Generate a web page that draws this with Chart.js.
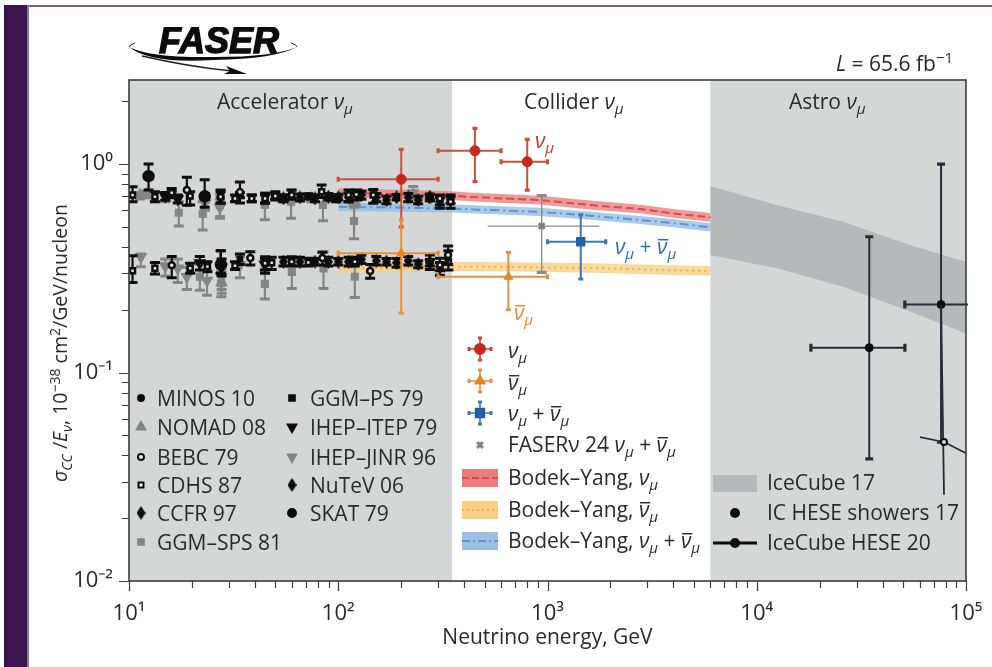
<!DOCTYPE html>
<html>
<head>
<meta charset="utf-8">
<script src="https://cdn.jsdelivr.net/npm/chart.js@4"></script>
<style>
    body { margin: 0; background: #fff; }
    #strip { position: absolute; left: 4px; top: 5px; width: 23px; height: 662px; background: #3d1350; }
    #edgeTop { position: absolute; left: 27px; top: 5px; right: 0; height: 2px; background: #7d5f8e; }
    #edgeLeft { position: absolute; left: 27px; top: 5px; width: 2px; height: 662px; background: #8d72a0; }
    #chart { position: absolute; left: 0; top: 0; }
</style>
</head>
<body>
<div id="strip"></div><div id="edgeTop"></div><div id="edgeLeft"></div>
<canvas id="chart" width="992" height="667"></canvas>
<script>
// accelerator measurements, upper group is neutrino and lower group antineutrino
const cdhsEnergy = [10.4, 13.3, 16, 19.6, 27.4, 32.1, 38.6, 44.7, 50, 59.9, 83.3, 112, 122, 147, 306, 344, 10.4, 13.3, 19.6, 23.7, 32.1, 44.7, 48.1, 59.9, 71.9, 120, 306, 336];
const cdhsSigma = [.71, .697, .729, .702, .697, .684, .684, .684, .702, .71, .737, .71, .715, .71, .684, .66, .308, .316, .316, .322, .325, .334, .336, .34, .337, .34, .328, .34];
const cdhsLow = [.66, .66, .692, .636, .648, .66, .66, .648, .672, .677, .692, .66, .672, .648, .613, .613, .27, .297, .299, .304, .312, .299, .312, .324, .324, .324, .293, .31];
const cdhsHigh = [.779, .737, .764, .737, .75, .71, .71, .723, .737, .75, .793, .75, .75, .755, .71, .71, .363, .337, .334, .34, .34, .359, .357, .359, .353, .357, .353, .384];

const ccfrEnergy = [27.4, 54.7, 65.6, 89.7, 112, 129, 152, 190, 216, 274, 27.4, 54.7, 65.6, 89.7, 112, 129, 152, 190, 216, 274];
const ccfrSigma = [.692, .684, .692, .697, .692, .71, .692, .692, .692, .692, .331, .34, .34, .34, .34, .349, .344, .336, .344, .34];
const ccfrLow = [.65, .66, .665, .672, .66, .677, .66, .672, .66, .665, .299, .324, .324, .324, .324, .333, .328, .32, .328, .312];
const ccfrHigh = [.737, .71, .718, .723, .723, .74, .723, .715, .723, .718, .384, .357, .357, .357, .357, .365, .36, .352, .36, .366];

const nutevEnergy = [77.4, 100, 170, 241, 274, 306, 344, 77.4, 100, 170, 241, 274, 306];
const nutevSigma = [.684, .692, .672, .672, .692, .66, .672, .34, .34, .34, .331, .336, .322];
const nutevLow = [.66, .672, .645, .645, .672, .636, .648, .328, .328, .328, .318, .324, .308];
const nutevHigh = [.71, .715, .7, .7, .715, .69, .697, .352, .352, .352, .344, .348, .336];

const bebcEnergy = [18.9, 33.9, 16, 38, 84, 142, 335];
const bebcSigma = [.75, .735, .327, .354, .354, .307, .366];
const bebcLow = [.635, .65, .285, .328, .328, .283, .33];
const bebcHigh = [.865, .82, .36, .38, .378, .33, .404];

const skatEnergy = [12.4, 23, 27.5];
const skatSigma = [.875, .7, .33];
const skatLow = [.75, .62, .299];
const skatHigh = [1.0, .84, .384];

const minosEnergy = [16, 23.1, 33.9, 50, 71.9, 98];
const minosSigma = [.715, .7, .71, .7, .7, .68];
const minosLow = [.69, .68, .69, .68, .68, .66];
const minosHigh = [.74, .72, .73, .72, .72, .7];

const ggmPsEnergy = [38.6, 44.7, 54.7, 33.9];
const ggmPsSigma = [.684, .68, .69, .35];
const ggmPsLow = [.66, .65, .67, .33];
const ggmPsHigh = [.71, .71, .71, .37];

const ihepItepEnergy = [14.9, 17.1, 21.8, 27.7, 44.6];
const ihepItepSigma = [.7, .68, .335, .32, .33];
const ihepItepLow = [.67, .65, .31, .29, .31];
const ihepItepHigh = [.73, .71, .36, .35, .35];

const ggmSpsEnergy = [17.3, 22.5, 27.2, 44.6, 59.5, 84.5, 119, 21.8, 27.6, 44.6, 60, 85, 120];
const ggmSpsSigma = [.584, .576, .636, .636, .66, .636, .533, .288, .268, .266, .304, .316, .288];
const ggmSpsLow = [.504, .483, .55, .54, .55, .535, .438, .248, .231, .225, .253, .253, .229];
const ggmSpsHigh = [.66, .66, .71, .73, .75, .72, .62, .33, .31, .31, .35, .38, .35];

const nomadEnergy = [11.3, 12.1, 14.9, 54.6, 74.6, 91.1, 120, 27.7];
const nomadSigma = [.71, .715, .684, .677, .684, .677, .66, .27];
const nomadLow = [.68, .69, .66, .66, .66, .66, .64, .24];
const nomadHigh = [.73, .74, .71, .69, .7, .69, .68, .3];

const ihepJinrEnergy = [11.4, 14.9, 17.1, 18.9, 23.6, 27.7, 33.9, 23.1, 27.2, 228];
const ihepJinrSigma = [.359, .324, .316, .288, .276, .288, .328, .648, .62, .726];
const ihepJinrLow = [.322, .29, .27, .25, .235, .25, .285, .6, .56, .68];
const ihepJinrHigh = [.37, .35, .35, .32, .31, .32, .36, .7, .68, .78];

// FASER points
const redEnergy = [200, 450, 800];
const redSigma = [.845, 1.158, 1.026];
const redEnergyLow = [100, 300, 600];
const redEnergyHigh = [300, 600, 1000];
const redLow = [.5, .823, .75];
const redHigh = [1.176, 1.483, 1.313];

const orangeEnergy = [200, 650];
const orangeSigma = [.373, .288];
const orangeEnergyLow = [100, 300];
const orangeEnergyHigh = [300, 1000];
const orangeLow = [.193, .2];
const orangeHigh = [.54, .377];

const blueEnergy = [1442];
const blueSigma = [.424];
const blueEnergyLow = [1000];
const blueEnergyHigh = [1897];
const blueLow = [.281];
const blueHigh = [.57];

const faserEnergy = [938];
const faserSigma = [.504];
const faserEnergyLow = [518];
const faserEnergyHigh = [1770];
const faserLow = [.302];
const faserHigh = [.705];

// Bodek-Yang bands
const bandEnergy = [100, 350, 441, 920, 1596, 2767, 3980, 6000];
const redBand = [.728, .705, .694, .672, .636, .608, .58, .555];
const redBandUp = [.765, .74, .728, .705, .668, .638, .608, .582];
const redBandDown = [.693, .672, .661, .64, .606, .58, .553, .529];
const blueBand = [.624, .612, .606, .59, .565, .539, .521, .497];
const blueBandUp = [.652, .64, .634, .617, .591, .564, .545, .52];
const blueBandDown = [.596, .585, .579, .564, .54, .515, .498, .475];
const orangeBand = [.316, .322, .322, .32, .317, .313, .31, .307];
const orangeBandUp = [.333, .339, .339, .337, .334, .33, .327, .324];
const orangeBandDown = [.3, .306, .306, .304, .301, .297, .294, .291];

// IceCube
const iceBandEnergy = [6000, 12450, 25950, 53950, 100000];
const iceBandUp = [.784, .636, .529, .409, .34];
const iceBandDown = [.366, .316, .258, .196, .154];
const showerEnergy = [34500, 76000];
const showerSigma = [.1316, .212];
const showerEnergyLow = [18150, 51000];
const showerEnergyHigh = [51050, 150000];
const showerLow = [.0385, .0464];
const showerHigh = [.448, 1.0];
const heseEnergy = [78500];
const heseSigma = [.0464];
const heseSlopeEnergy = [60300, 78500, 100000];
const heseSlopeSigma = [.049, .0464, .041];
const heseDropEnergy = [76000, 78500];
const heseDropSigma = [.212, .0259];

const regionEdges = [10, 350, 6000, 100000];

const NU = [{t: 'ν', i: 1}, {t: 'μ', i: 1, sub: 1}];
const NUBAR = [{t: 'ν', i: 1, over: 1}, {t: 'μ', i: 1, sub: 1}];
const NUSUM = [...NU, {t: ' + '}, ...NUBAR];

const BLACK = '#0d0d0d';
const GREY = '#858585';
const TEXT = '#2a2a2a';
const FONT = '"Open Sans"';
const SIZE = 21;
const SUPERS = {'-': '⁻', '0': '⁰', '1': '¹', '2': '²', '3': '³', '4': '⁴', '5': '⁵'};

// narrow diamond for CCFR and NuTeV
const thinDiamond = document.createElement('canvas');
thinDiamond.width = 9;
thinDiamond.height = 14;
const thinCtx = thinDiamond.getContext('2d');
thinCtx.fillStyle = BLACK;
thinCtx.beginPath();
thinCtx.moveTo(4.5, 0);
thinCtx.lineTo(9, 7);
thinCtx.lineTo(4.5, 14);
thinCtx.lineTo(0, 7);
thinCtx.closePath();
thinCtx.fill();

const legendLeft = [
    ['MINOS 10', 'circle', 3, BLACK, BLACK],
    ['NOMAD 08', 'triangle', 5, GREY, GREY],
    ['BEBC 79', 'circle', 3, '#fff', BLACK],
    ['CDHS 87', 'rect', 3.5, '#fff', BLACK],
    ['CCFR 97', thinDiamond, 4, BLACK, BLACK],
    ['GGM–SPS 81', 'rect', 4, GREY, GREY]
];
const legendRight = [
    ['GGM–PS 79', 'rect', 4, BLACK, BLACK],
    ['IHEP–ITEP 79', 'invert', 5, BLACK, BLACK],
    ['IHEP–JINR 96', 'invert', 5, GREY, GREY],
    ['NuTeV 06', thinDiamond, 4, BLACK, BLACK],
    ['SKAT 79', 'circle', 4, BLACK, BLACK]
];

function toPoints(xs, ys) {
    return xs.map(function (x, i) {
        return {x: x, y: ys[i]};
    });
}

function richText(ctx, spans, x, y, size, color) {
    let cursor = x;
    ctx.save();
    ctx.fillStyle = color;
    ctx.strokeStyle = color;
    ctx.textAlign = 'left';
    ctx.textBaseline = 'alphabetic';
    spans.forEach(function (s) {
        const fontSize = (s.sub || s.sup) ? size * 0.72 : size;
        ctx.font = (s.i ? 'italic ' : '') + fontSize + 'px ' + FONT;
        const shift = s.sub ? size * 0.24 : (s.sup ? -size * 0.36 : 0);
        ctx.fillText(s.t, cursor, y + shift);
        const w = ctx.measureText(s.t).width;
        if (s.over) {
            ctx.lineWidth = 1.4;
            ctx.beginPath();
            ctx.moveTo(cursor + 1, y - size * 0.68);
            ctx.lineTo(cursor + w + 1, y - size * 0.68);
            ctx.stroke();
        }
        cursor += w;
    });
    ctx.restore();
    return cursor - x;
}

function marker(ctx, style, radius, fill, stroke, x, y, lineWidth) {
    ctx.save();
    ctx.fillStyle = fill;
    ctx.strokeStyle = stroke;
    ctx.lineWidth = lineWidth || 2;
    const invert = style === 'invert';
    Chart.helpers.drawPoint(ctx, {
        pointStyle: invert ? 'triangle' : style,
        rotation: invert ? 180 : 0,
        radius: radius,
        borderWidth: lineWidth || 2
    }, x, y);
    ctx.restore();
}

function errorMark(ctx, color, x, y, width, arm, armWidth) {
    // small cross with end caps, as used in the legend
    ctx.strokeStyle = color;
    ctx.lineWidth = width;
    ctx.beginPath();
    ctx.moveTo(x - arm, y);
    ctx.lineTo(x + arm, y);
    ctx.moveTo(x, y - arm);
    ctx.lineTo(x, y + arm);
    ctx.stroke();
    ctx.lineWidth = armWidth;
    ctx.beginPath();
    ctx.moveTo(x - arm, y - 2);
    ctx.lineTo(x - arm, y + 2);
    ctx.moveTo(x + arm, y - 2);
    ctx.lineTo(x + arm, y + 2);
    ctx.moveTo(x - 2, y - arm);
    ctx.lineTo(x + 2, y - arm);
    ctx.moveTo(x - 2, y + arm);
    ctx.lineTo(x + 2, y + arm);
    ctx.stroke();
}

// error bars of a dataset go in right before its markers
const errorBarPlugin = {
    id: 'errorBars',
    beforeDatasetDraw(chart, args) {
        const ds = chart.data.datasets[args.index];
        if (!ds.err) {
            return;
        }
        const {x: xs, y: ys} = chart.scales;
        const area = chart.chartArea;
        const ctx = chart.ctx;
        const e = ds.err;
        ctx.save();
        ctx.beginPath();
        ctx.rect(area.left, area.top - 1, area.width + 2, area.height + 2);
        ctx.clip();
        ctx.strokeStyle = e.color;
        ds.data.forEach(function (p, i) {
            const px = xs.getPixelForValue(p.x);
            const py = ys.getPixelForValue(p.y);
            const top = ys.getPixelForValue(e.high[i]);
            const bottom = ys.getPixelForValue(e.low[i]);
            ctx.lineWidth = e.width;
            ctx.beginPath();
            ctx.moveTo(px, top);
            ctx.lineTo(px, bottom);
            ctx.stroke();
            ctx.lineWidth = e.capWidth;
            ctx.beginPath();
            ctx.moveTo(px - e.cap, top);
            ctx.lineTo(px + e.cap, top);
            ctx.moveTo(px - e.cap, bottom);
            ctx.lineTo(px + e.cap, bottom);
            ctx.stroke();
            if (e.xLow) {
                const left = xs.getPixelForValue(e.xLow[i]);
                const right = xs.getPixelForValue(e.xHigh[i]);
                ctx.lineWidth = e.width;
                ctx.beginPath();
                ctx.moveTo(left, py);
                ctx.lineTo(right, py);
                ctx.stroke();
                if (e.xCap) {
                    ctx.lineWidth = e.capWidth;
                    ctx.beginPath();
                    ctx.moveTo(left, py - e.cap);
                    ctx.lineTo(left, py + e.cap);
                    ctx.moveTo(right, py - e.cap);
                    ctx.lineTo(right, py + e.cap);
                    ctx.stroke();
                }
            }
        });
        ctx.restore();
    }
};

const backgroundPlugin = {
    id: 'plotBackground',
    beforeDatasetsDraw(chart) {
        const {x: xs} = chart.scales;
        const {top, height} = chart.chartArea;
        const ctx = chart.ctx;
        ctx.save();
        ctx.fillStyle = '#d5d7d6';
        [[regionEdges[0], regionEdges[1]], [regionEdges[2], regionEdges[3]]].forEach(function (r) {
            const a = xs.getPixelForValue(r[0]);
            ctx.fillRect(a, top, xs.getPixelForValue(r[1]) - a, height);
        });
        ctx.restore();
    }
};

function isShownTick(value) {
    const m = value / Math.pow(10, Math.floor(Math.log10(value) + 1e-9));
    return Math.abs(m - Math.round(m)) < 0.01;
}

function isDecade(value) {
    const l = Math.log10(value);
    return Math.abs(l - Math.round(l)) < 1e-6;
}

function decadeLabel(value) {
    if (!isDecade(value)) {
        return '';
    }
    return '10' + String(Math.round(Math.log10(value))).split('').map(function (c) {
        return SUPERS[c];
    }).join('');
}

function drawLogo(ctx) {
    ctx.save();
    ctx.beginPath();
    ctx.rect(120, 27, 200, 52);
    ctx.clip();
    ctx.strokeStyle = '#222';
    ctx.fillStyle = '#0c0c0c';
    ctx.lineWidth = 1;
    ctx.beginPath();
    ctx.ellipse(213, 47, 84, 11, 0, Math.PI, 1.12 * Math.PI, false);
    ctx.stroke();
    ctx.beginPath();
    ctx.ellipse(213, 47, 84, 11, 0, 1.88 * Math.PI, 2 * Math.PI, false);
    ctx.stroke();
    ctx.beginPath();
    ctx.moveTo(129, 47);
    ctx.quadraticCurveTo(150, 64, 214, 60);
    ctx.quadraticCurveTo(275, 59, 297, 47);
    ctx.quadraticCurveTo(275, 57, 214, 57);
    ctx.quadraticCurveTo(150, 58, 129, 47);
    ctx.fill();
    ctx.lineWidth = 1.6;
    ctx.beginPath();
    ctx.moveTo(142, 56);
    ctx.quadraticCurveTo(190, 67, 232, 71);
    ctx.stroke();
    ctx.beginPath();
    ctx.moveTo(247, 74);
    ctx.lineTo(224, 74);
    ctx.lineTo(230, 71);
    ctx.lineTo(226, 66);
    ctx.closePath();
    ctx.fill();
    ctx.font = 'italic bold 36px "Liberation Sans"';
    ctx.textAlign = 'left';
    ctx.textBaseline = 'alphabetic';
    ctx.lineWidth = 1.4;
    ctx.strokeStyle = '#0c0c0c';
    ctx.fillText('FASER', 159, 53);
    ctx.strokeText('FASER', 159, 53);
    ctx.restore();
}

const annotationPlugin = {
    id: 'annotations',
    afterDraw(chart) {
        const ctx = chart.ctx;
        const {x: xs, y: ys} = chart.scales;
        const area = chart.chartArea;

        // tick marks and frame
        ctx.save();
        ctx.strokeStyle = '#3c3c3c';
        ctx.lineWidth = 1.2;
        ctx.beginPath();
        xs.ticks.forEach(function (t) {
            if (isShownTick(t.value)) {
                const px = Math.round(xs.getPixelForValue(t.value)) + 0.5;
                ctx.moveTo(px, area.bottom);
                ctx.lineTo(px, area.bottom + (isDecade(t.value) ? 10 : 7));
            }
        });
        ys.ticks.forEach(function (t) {
            if (isShownTick(t.value)) {
                const py = Math.round(ys.getPixelForValue(t.value)) + 0.5;
                ctx.moveTo(area.left, py);
                ctx.lineTo(area.left - (isDecade(t.value) ? 10 : 7), py);
            }
        });
        ctx.stroke();
        ctx.lineWidth = 1.6;
        ctx.strokeRect(area.left, area.top, area.width, area.height);
        ctx.restore();

        drawLogo(ctx);

        richText(ctx, [{t: 'L', i: 1}, {t: ' = 65.6 fb'}, {t: '−1', sup: 1}], 836, 71, SIZE, TEXT);

        richText(ctx, [{t: 'Accelerator '}, ...NU], 217, 109, SIZE, TEXT);
        richText(ctx, [{t: 'Collider '}, ...NU], 524, 109, SIZE, TEXT);
        richText(ctx, [{t: 'Astro '}, ...NU], 789, 109, SIZE, TEXT);

        richText(ctx, NU, 535, 148, SIZE, '#c5352b');
        richText(ctx, NUBAR, 514, 320, SIZE, '#e98a2c');
        richText(ctx, NUSUM, 615, 254, SIZE, '#2f6cb0');

        // y axis title, rotated
        ctx.save();
        ctx.translate(67, 482);
        ctx.rotate(-Math.PI / 2);
        richText(ctx, [
            {t: 'σ', i: 1}, {t: 'CC', i: 1, sub: 1}, {t: ' /'}, {t: 'E', i: 1}, {t: 'ν', i: 1, sub: 1},
            {t: ', 10'}, {t: '−38', sup: 1}, {t: ' cm'}, {t: '2', sup: 1}, {t: '/GeV/nucleon'}
        ], 0, 0, 19.5, TEXT);
        ctx.restore();

        // legend, first two columns
        const leftRows = [398, 427, 457, 485, 513, 542];
        legendLeft.forEach(function (row, i) {
            marker(ctx, row[1], row[2], row[3], row[4], 141, leftRows[i]);
            richText(ctx, [{t: row[0]}], 157, leftRows[i] + 8, SIZE, TEXT);
        });
        legendRight.forEach(function (row, i) {
            marker(ctx, row[1], row[2], row[3], row[4], 292, leftRows[i]);
            richText(ctx, [{t: row[0]}], 310, leftRows[i] + 8, SIZE, TEXT);
        });

        // legend, middle column
        errorMark(ctx, '#c8463a', 480, 349, 1.6, 11, 3);
        marker(ctx, 'circle', 5, '#c7281f', '#c7281f', 480, 349);
        errorMark(ctx, '#e98f3a', 480, 381, 1.6, 11, 3);
        marker(ctx, 'triangle', 5, '#e98325', '#e98325', 480, 381);
        errorMark(ctx, '#3f78b8', 480, 413, 1.6, 11, 3);
        marker(ctx, 'rect', 6, '#2460a8', '#2460a8', 480, 413);
        marker(ctx, 'crossRot', 4, '#808080', '#808080', 480, 445, 3);

        richText(ctx, NU, 508, 358, SIZE, TEXT);
        richText(ctx, NUBAR, 508, 390, SIZE, TEXT);
        richText(ctx, NUSUM, 508, 421, SIZE, TEXT);
        richText(ctx, [{t: 'FASER'}, {t: 'ν'}, {t: ' 24 '}, ...NUSUM], 508, 452, SIZE, TEXT);
        const bands = [
            ['#eb7d7b', '#d9484a', [7, 3], 478, NU],
            ['#f9cf85', '#e8b060', [2, 3], 510, NUBAR],
            ['#9dbfe3', '#5f93cc', [8, 3, 2, 3], 541, NUSUM]
        ];
        bands.forEach(function (b) {
            ctx.save();
            ctx.fillStyle = b[0];
            ctx.fillRect(462, b[3] - 9, 36, 18);
            ctx.strokeStyle = b[1];
            ctx.lineWidth = 2;
            ctx.setLineDash(b[2]);
            ctx.beginPath();
            ctx.moveTo(462, b[3]);
            ctx.lineTo(498, b[3]);
            ctx.stroke();
            ctx.restore();
            richText(ctx, [{t: 'Bodek–Yang, '}, ...b[4]], 508, b[3] + 7, SIZE, TEXT);
        });

        // legend, right column
        ctx.save();
        ctx.fillStyle = '#b5b9ba';
        ctx.fillRect(713, 475, 44, 17);
        ctx.strokeStyle = BLACK;
        ctx.lineWidth = 3;
        ctx.beginPath();
        ctx.moveTo(713, 543);
        ctx.lineTo(757, 543);
        ctx.stroke();
        ctx.restore();
        marker(ctx, 'circle', 4, BLACK, BLACK, 735, 513);
        marker(ctx, 'circle', 4, BLACK, BLACK, 735, 543);
        richText(ctx, [{t: 'IceCube 17'}], 767, 490, SIZE, TEXT);
        richText(ctx, [{t: 'IC HESE showers 17'}], 767, 520, SIZE, TEXT);
        richText(ctx, [{t: 'IceCube HESE 20'}], 767, 550, SIZE, TEXT);
    }
};

function pointSet(order, energy, sigma, low, high, style, radius, fill, stroke, color, rotation) {
    return {
        type: 'scatter',
        order: order,
        data: toPoints(energy, sigma),
        pointStyle: style,
        pointRotation: rotation || 0,
        pointRadius: radius,
        pointBackgroundColor: fill,
        pointBorderColor: stroke,
        pointBorderWidth: 2.5,
        err: {color: color, low: low, high: high, width: 2.2, capWidth: 3, cap: 5}
    };
}

function crossSet(order, energy, sigma, eLow, eHigh, low, high, style, radius, fill, color, width, cap, xCap) {
    return {
        type: 'scatter',
        order: order,
        data: toPoints(energy, sigma),
        pointStyle: style,
        pointRadius: radius,
        pointBackgroundColor: fill,
        pointBorderColor: fill,
        pointBorderWidth: style === 'crossRot' ? 3 : 1,
        err: {color: color, low: low, high: high, xLow: eLow, xHigh: eHigh, width: width, capWidth: 3.2, cap: cap, xCap: xCap}
    };
}

function bandEdge(order, energy, values, fill, fillTarget) {
    return {
        type: 'line',
        order: order,
        data: toPoints(energy, values),
        pointRadius: 0,
        borderWidth: 0,
        borderColor: 'transparent',
        backgroundColor: fill,
        fill: fillTarget
    };
}

function bandLine(order, energy, values, color, dash) {
    return {
        type: 'line',
        order: order,
        data: toPoints(energy, values),
        pointRadius: 0,
        borderWidth: 2,
        borderColor: color,
        borderDash: dash,
        fill: false
    };
}

function thinLine(order, energy, values, width) {
    return {
        type: 'line',
        order: order,
        data: toPoints(energy, values),
        pointRadius: 0,
        borderWidth: width,
        borderColor: '#2a2a3a',
        fill: false
    };
}

const datasets = [
    bandEdge(60, iceBandEnergy, iceBandUp, '#b5b9ba', '+1'),
    bandEdge(60, iceBandEnergy, iceBandDown, '#b5b9ba', false),
    bandEdge(59, bandEnergy, redBandUp, 'rgba(232,120,118,.75)', '+1'),
    bandEdge(59, bandEnergy, redBandDown, 'rgba(232,120,118,.75)', false),
    bandLine(58, bandEnergy, redBand, '#d9484a', [8, 4]),
    bandEdge(57, bandEnergy, blueBandUp, 'rgba(150,188,228,.8)', '+1'),
    bandEdge(57, bandEnergy, blueBandDown, 'rgba(150,188,228,.8)', false),
    bandLine(56, bandEnergy, blueBand, '#5f93cc', [9, 4, 2, 4]),
    bandEdge(55, bandEnergy, orangeBandUp, 'rgba(249,207,133,.8)', '+1'),
    bandEdge(55, bandEnergy, orangeBandDown, 'rgba(249,207,133,.8)', false),
    bandLine(54, bandEnergy, orangeBand, '#e8b060', [2, 4]),

    pointSet(40, ggmSpsEnergy, ggmSpsSigma, ggmSpsLow, ggmSpsHigh, 'rect', 4, GREY, GREY, GREY),
    pointSet(39, nomadEnergy, nomadSigma, nomadLow, nomadHigh, 'triangle', 5, GREY, GREY, GREY),
    pointSet(38, ihepJinrEnergy, ihepJinrSigma, ihepJinrLow, ihepJinrHigh, 'triangle', 5, GREY, GREY, GREY, 180),

    pointSet(30, minosEnergy, minosSigma, minosLow, minosHigh, 'circle', 3, BLACK, BLACK, BLACK),
    pointSet(29, ggmPsEnergy, ggmPsSigma, ggmPsLow, ggmPsHigh, 'rect', 3, BLACK, BLACK, BLACK),
    pointSet(28, ihepItepEnergy, ihepItepSigma, ihepItepLow, ihepItepHigh, 'triangle', 5, BLACK, BLACK, BLACK, 180),
    pointSet(27, ccfrEnergy, ccfrSigma, ccfrLow, ccfrHigh, thinDiamond, 4, BLACK, BLACK, BLACK),
    pointSet(26, nutevEnergy, nutevSigma, nutevLow, nutevHigh, thinDiamond, 4, BLACK, BLACK, BLACK),
    pointSet(25, cdhsEnergy, cdhsSigma, cdhsLow, cdhsHigh, 'rect', 3.5, '#e8e8e8', BLACK, BLACK),
    pointSet(24, bebcEnergy, bebcSigma, bebcLow, bebcHigh, 'circle', 3, '#e8e8e8', BLACK, BLACK),
    pointSet(23, skatEnergy, skatSigma, skatLow, skatHigh, 'circle', 5, BLACK, BLACK, BLACK),

    crossSet(12, faserEnergy, faserSigma, faserEnergyLow, faserEnergyHigh, faserLow, faserHigh, 'crossRot', 4, '#808080', '#8c8c8c', 1.4, 5, false),
    crossSet(11, redEnergy, redSigma, redEnergyLow, redEnergyHigh, redLow, redHigh, 'circle', 5, '#c7281f', '#c8503f', 2, 2.5, true),
    crossSet(10, orangeEnergy, orangeSigma, orangeEnergyLow, orangeEnergyHigh, orangeLow, orangeHigh, 'triangle', 5, '#e98325', '#e98f3a', 2, 2.5, true),
    crossSet(9, blueEnergy, blueSigma, blueEnergyLow, blueEnergyHigh, blueLow, blueHigh, 'rect', 6, '#2460a8', '#3f78b8', 2, 2.5, true),

    crossSet(5, showerEnergy, showerSigma, showerEnergyLow, showerEnergyHigh, showerLow, showerHigh, 'circle', 4, '#0a0a14', '#2a2a3a', 2, 4, true),
    thinLine(4, heseSlopeEnergy, heseSlopeSigma, 1.6),
    thinLine(4, heseDropEnergy, heseDropSigma, 1.8),
    {
        type: 'scatter',
        order: 3,
        data: toPoints(heseEnergy, heseSigma),
        pointStyle: 'circle',
        pointRadius: 3,
        pointBackgroundColor: '#d5d7d6',
        pointBorderColor: BLACK,
        pointBorderWidth: 2
    }
];

new Chart(document.getElementById('chart').getContext('2d'), {
    data: {datasets: datasets},
    plugins: [backgroundPlugin, errorBarPlugin, annotationPlugin],
    options: {
        responsive: false,
        animation: false,
        events: [],
        layout: {padding: {left: 0, top: 80, right: 26, bottom: 0}},
        plugins: {legend: {display: false}, tooltip: {enabled: false}},
        scales: {
            x: {
                type: 'logarithmic',
                min: 10,
                max: 100000,
                afterFit(scale) {
                    scale.height = 86;
                    scale.paddingLeft = 0;
                    scale.paddingRight = 0;
                },
                grid: {display: false, drawTicks: false},
                border: {display: false},
                ticks: {
                    autoSkip: false,
                    maxRotation: 0,
                    padding: 20,
                    color: TEXT,
                    font: {family: FONT, size: 22},
                    callback: decadeLabel
                },
                title: {
                    display: true,
                    text: 'Neutrino energy, GeV',
                    color: TEXT,
                    font: {family: FONT, size: 21},
                    padding: {top: 0, bottom: 16}
                }
            },
            y: {
                type: 'logarithmic',
                min: 0.01,
                max: 2.53,
                afterFit(scale) {
                    scale.width = 129;
                    scale.paddingTop = 0;
                    scale.paddingBottom = 0;
                },
                grid: {display: false, drawTicks: false},
                border: {display: false},
                ticks: {
                    autoSkip: false,
                    padding: 16,
                    color: TEXT,
                    font: {family: FONT, size: 22},
                    callback: decadeLabel
                }
            }
        }
    }
});
</script>
</body>
</html>
